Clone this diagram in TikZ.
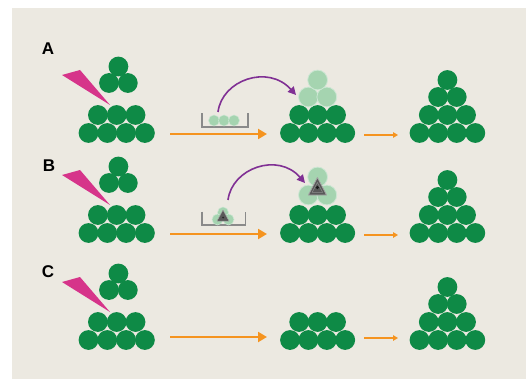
\documentclass[tikz,border=0pt]{standalone}
\usepackage{fontspec}
\setmainfont{Liberation Sans}
\usetikzlibrary{arrows.meta}
\definecolor{leafgreen}{RGB}{14,138,70}
\definecolor{palegreen}{RGB}{165,212,176}
\definecolor{wedgepink}{RGB}{214,52,138}
\definecolor{arcpurple}{RGB}{128,48,148}
\definecolor{floworange}{RGB}{245,148,32}
\definecolor{troughgray}{RGB}{138,138,138}
\definecolor{paper}{RGB}{236,233,225}

\begin{document}
\begin{tikzpicture}[x=1pt, y=-1pt]
    \tikzstyle{ball} = [circle, fill=leafgreen, minimum size=19.8pt, inner sep=0pt]
    \tikzstyle{ghost} = [circle, fill=palegreen, draw=palegreen!55!white, line width=0.8pt, minimum size=19.8pt, inner sep=0pt]
    \tikzstyle{bead} = [circle, fill=palegreen, draw=palegreen!55!white, line width=0.5pt, minimum size=11pt, inner sep=0pt]
    \tikzstyle{flow} = [draw=floworange, line width=2pt, -{Triangle[length=9pt, width=10pt]}]
    \tikzstyle{flowshort} = [draw=floworange, line width=1.5pt, -{Triangle[length=5pt, width=5.5pt]}]
    \tikzstyle{carry} = [draw=arcpurple, line width=1.6pt, -{Triangle[length=8pt, width=8pt]}]
    \tikzstyle{trough} = [draw=troughgray, line width=1.8pt]
    \tikzstyle{panel} = [font=\fontsize{17}{17}\selectfont\bfseries, inner sep=0pt]
    \tikzstyle{marker} = [fill=black!65, draw=black!35, line width=0.8pt, line join=round]

    % Paper
    \fill[white] (0,0) rectangle (526,379);
    \fill[paper] (12,8) rectangle (526,379);

    % Panel letters
    \node[panel] (lblA) at (48,49) {A};
    \node[panel] (lblB) at (49,166) {B};
    \node[panel] (lblC) at (48,272) {C};

    % Rows: broken pyramid, base pyramid, full pyramid
    \foreach \r/\y/\ya in {a/133/134, b/233/234, c/340/337} {
        \foreach \i in {0,...,3} \node[ball] (\r-l1\i) at (88.5+18.8*\i,\y) {};
        \foreach \i in {0,1,2} \node[ball] (\r-l2\i) at (97.9+18.8*\i,\y-18) {};
        \node[ball] (\r-f0) at (109,\y-50) {};
        \node[ball] (\r-f1) at (127.8,\y-50) {};
        \node[ball] (\r-f2) at (118.4,\y-66.5) {};
        \fill[wedgepink] (62,\y-58) -- (80,\y-63) -- (110,\y-28) -- cycle;

        \foreach \i in {0,...,3} \node[ball] (\r-m1\i) at (290+18.4*\i,\y) {};
        \foreach \i in {0,1,2} \node[ball] (\r-m2\i) at (299.2+18.4*\i,\y-18) {};

        \foreach \i in {0,...,3} \node[ball] (\r-r1\i) at (419.5+18.6*\i,\y) {};
        \foreach \i in {0,1,2} \node[ball] (\r-r2\i) at (428.8+18.6*\i,\y-18) {};
        \foreach \i in {0,1} \node[ball] (\r-r3\i) at (438.1+18.6*\i,\y-36) {};
        \node[ball] (\r-r4) at (447.4,\y-53) {};

        \coordinate (\r-go) at (170,\ya);
        \coordinate (\r-in) at (267,\ya);
        \coordinate (\r-out) at (364,\ya+1);
        \coordinate (\r-end) at (398,\ya+1);
        \draw[flow] (\r-go) -- (\r-in);
        \draw[flowshort] (\r-out) -- (\r-end);
    }

    % A: loose beads carried to the top
    \draw[trough] (201.7,113.3) -- (201.7,126.7) -- (248,126.7) -- (248,113.3);
    \node[bead] (a-bead0) at (214,120.5) {};
    \node[bead] (a-bead1) at (224,120.5) {};
    \node[bead] (a-bead2) at (234,120.5) {};
    \node[ghost] (a-g0) at (308.4,97) {};
    \node[ghost] (a-g1) at (326.8,97) {};
    \node[ghost] (a-g2) at (317.6,80) {};
    \coordinate (a-lift) at (218,112);
    \coordinate (a-drop) at (296,95);
    \draw[carry] (a-lift) .. controls (222,80) and (268,64) .. (a-drop);

    % B: marked cluster carried to the top
    \draw[trough] (201.7,211.7) -- (201.7,225) -- (245.5,225) -- (245.5,211.7);
    \node[bead] (b-bead0) at (223,212.5) {};
    \node[bead] (b-bead1) at (217.5,219.5) {};
    \node[bead] (b-bead2) at (228.5,219.5) {};
    \draw[marker, line width=0.5pt] (223,210) -- (217,221) -- (229,221) -- cycle;
    \fill[black!85] (223,217.5) circle (1);
    \node[ghost] (b-g0) at (308.4,195) {};
    \node[ghost] (b-g1) at (326.8,195) {};
    \node[ghost] (b-g2) at (317.6,177) {};
    \draw[marker] (317.4,177.5) -- (308.4,195) -- (326.6,195) -- cycle;
    \draw[black!45, line width=0.5pt] (317.4,182.5) -- (312.2,192.3) -- (322.6,192.3) -- cycle;
    \fill[black!90] (317.4,187.5) circle (1.8);
    \coordinate (b-lift) at (228,200);
    \coordinate (b-drop) at (305,183);
    \draw[carry] (b-lift) .. controls (232,168) and (278,152) .. (b-drop);
\end{tikzpicture}
\end{document}
